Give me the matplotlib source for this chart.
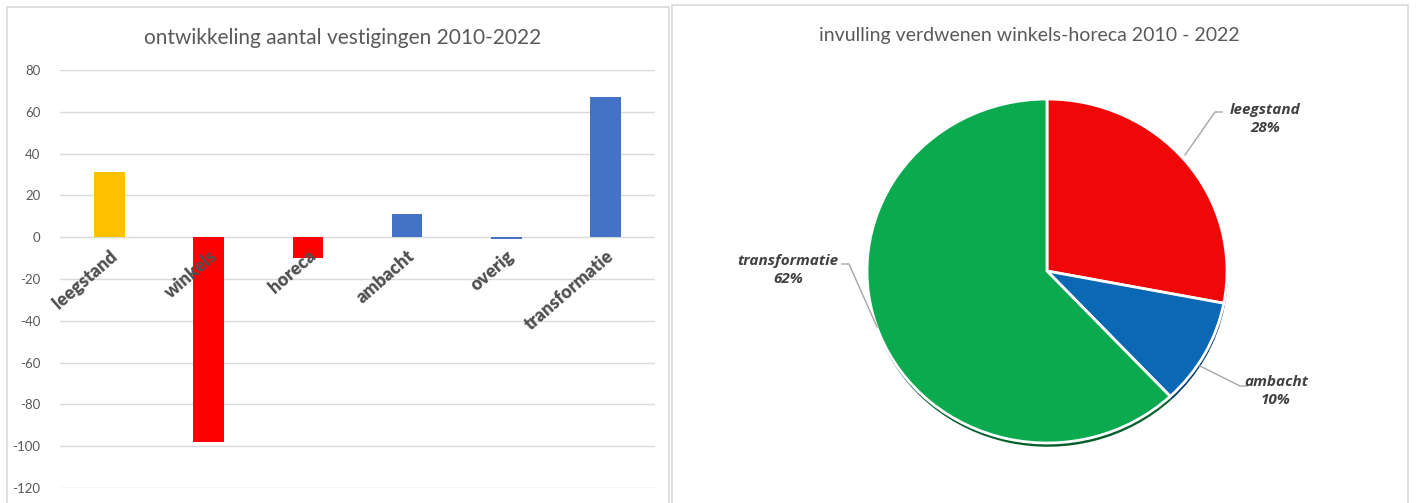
import matplotlib
matplotlib.use("Agg")
import matplotlib.pyplot as plt
from matplotlib.patches import Rectangle
from matplotlib.transforms import blended_transform_factory, offset_copy

# ---------------- data ----------------
bar_categories = ["leegstand", "winkels", "horeca", "ambacht", "overig", "transformatie"]
bar_values = [31, -98, -10, 11, -1, 67]
bar_colors = ["#FFC000", "#FF0000", "#FF0000", "#4472C4", "#4472C4", "#4472C4"]
y_ticks = [80, 60, 40, 20, 0, -20, -40, -60, -80, -100, -120]

pie_labels = ["leegstand", "ambacht", "transformatie"]
pie_values = [28, 10, 62]
pie_colors = ["#F00808", "#0A68B4", "#0BAA4F"]
pie_shadow = ["#8a0000", "#05386a", "#05602b"]

bar_title = "ontwikkeling aantal vestigingen 2010-2022"
pie_title = "invulling verdwenen winkels-horeca 2010 - 2022"

W, H = 1418, 503
fig = plt.figure(figsize=(W / 100, H / 100), dpi=100)

def fx(px):
    return px / W

def fy(py):
    return 1 - py / H

grey = "#595959"

# panel borders
fig.patches.append(Rectangle((fx(7), fy(510)), fx(662), fy(7) - fy(510), transform=fig.transFigure,
                             fill=False, edgecolor="#D9D9D9", lw=1.2))
fig.patches.append(Rectangle((fx(672), fy(510)), fx(736), fy(5) - fy(510), transform=fig.transFigure,
                             fill=False, edgecolor="#D9D9D9", lw=1.2))

# ---------------- bar chart ----------------
ax = fig.add_axes([fx(60), fy(488), fx(595), fy(70) - fy(488)])
x = list(range(len(bar_categories)))
ax.bar(x, bar_values, width=0.31, color=bar_colors, zorder=3)
ax.set_xlim(-0.5, len(bar_categories) - 0.5)
ax.set_ylim(-120, 80)
ax.set_yticks(y_ticks)
ax.set_yticklabels([str(v) for v in y_ticks], fontsize=9.5, color=grey, family="Lato")
ax.tick_params(axis="y", length=0, pad=14)
ax.set_xticks([])
for s in ax.spines.values():
    s.set_visible(False)
ax.grid(axis="y", color="#D9D9D9", lw=1, zorder=0)
ax.set_axisbelow(True)

tr = blended_transform_factory(ax.transData, ax.transData)
tr = offset_copy(tr, fig=fig, x=0, y=-10, units="dots")
for xi, lab in zip(x, bar_categories):
    ax.text(xi, 0, lab, transform=tr, rotation=41, rotation_mode="anchor",
            ha="right", va="top", fontsize=13, fontweight="heavy", color="#505050",
            family="Lato", zorder=4)

fig.text(fx(343), fy(38), bar_title, ha="center", va="center", fontsize=15, color=grey, family="Lato")

# ---------------- pie chart ----------------
cx, cy, rx, ry = 1047, 271, 180, 172
L, R, T, B = 700, 1400, 80, 470
pax = fig.add_axes([fx(L), fy(B), fx(R - L), fy(T) - fy(B)])

# shadow / thickness
pax.pie(pie_values, colors=pie_shadow, startangle=90, counterclock=False,
        center=(0.004, -0.022), radius=1.0, wedgeprops=dict(linewidth=0))
pax.pie(pie_values, colors=pie_colors, startangle=90, counterclock=False,
        center=(0, 0), radius=1.0, wedgeprops=dict(edgecolor="white", linewidth=2))
pax.set_xlim((L - cx) / rx, (R - cx) / rx)
pax.set_ylim((cy - B) / ry, (cy - T) / ry)
pax.set_aspect("auto")
pax.axis("off")

label_pos = {
    "leegstand": ((1265 - cx) / rx, (cy - 119) / ry),
    "ambacht": ((1276 - cx) / rx, (cy - 391) / ry),
    "transformatie": ((788 - cx) / rx, (cy - 270) / ry),
}
leaders = {
    "leegstand": [(1185, 155), (1215, 112), (1222, 112)],
    "ambacht": [(1200, 366), (1240, 386), (1247, 386)],
    "transformatie": [(877, 327), (849, 264), (842, 264)],
}
for lab, val in zip(pie_labels, pie_values):
    px, py = label_pos[lab]
    pax.text(px, py, f"{lab}\n{val}%", ha="center", va="center", fontsize=11,
             fontstyle="italic", fontweight="bold", color="#404040", family="Open Sans",
             linespacing=1.45)
    pts = leaders[lab]
    pax.plot([(p[0] - cx) / rx for p in pts], [(cy - p[1]) / ry for p in pts],
             color="#A6A6A6", lw=1)

fig.text(fx(1029), fy(35), pie_title, ha="center", va="center", fontsize=14, color=grey, family="Lato")

fig.savefig("out.png", dpi=100)
